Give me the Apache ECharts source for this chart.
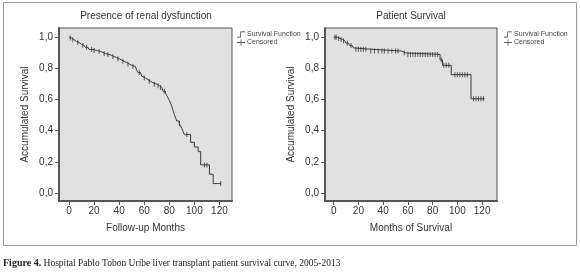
<!DOCTYPE html>
<html>
<head>
<meta charset="utf-8">
<script src="https://cdn.jsdelivr.net/npm/echarts@6/dist/echarts.min.js"></script>
<style>
  html, body { margin: 0; padding: 0; background: #fff; }
  #chart { width: 580px; height: 273px; }
</style>
</head>
<body>
<div id="chart"></div>
<script>
// Kaplan-Meier curve, renal dysfunction
var renalTime = [0,1,2,3,4,5,6,8,9,10,12,13,15,16,19,22,25,27,29,32,34,36,38,40,42,44,46,48,50,53,54,55,57,58,59,61,63,65,67,70,72,74,75,77,78,79,80,81,82,83,84,85,86,88,89,90,91,92,97,100,103,105,112,115,121];
var renalSurv = [1,.995,.99,.985,.979,.973,.967,.961,.955,.949,.943,.936,.929,.922,.916,.909,.903,.896,.89,.884,.877,.87,.862,.854,.846,.838,.829,.82,.812,.8,.787,.774,.762,.75,.739,.728,.718,.708,.699,.689,.678,.666,.653,.64,.625,.61,.594,.577,.555,.53,.505,.48,.462,.445,.43,.415,.395,.375,.325,.295,.265,.18,.12,.06,.06];
var renalCensor = [1,3,7,11,14,18,20,24,28,31,35,39,43,47,51,56,60,64,68,71,73,76,88,94,108,110,121];

// Kaplan-Meier curve, patient survival
var patientTime = [0,3,5,7,9,10,12,13,15,16,17,29,55,58,86,88,95,111,122];
var patientSurv = [1,.993,.986,.978,.97,.962,.955,.947,.94,.932,.924,.912,.9,.89,.855,.82,.76,.605,.605];
var patientCensor = [1,2,4,6,8,11,14,18,20,22,24,26,30,33,36,39,41,44,47,50,52,57,60,62,64,66,68,70,72,74,76,78,80,82,84,87,89,91,93,98,100,102,104,106,108,113,115,117,119,121];

var xTicks = [0,20,40,60,80,100,120];
var yTicks = [0,0.2,0.4,0.6,0.8,1.0];

var sans = '"Liberation Sans", Arial, sans-serif';
var serif = '"Liberation Serif", serif';

function curve(times, surv) {
    return times.map(function (t, i) { return [t, surv[i]]; });
}
// censored marks sit on the step curve
function marks(times, surv, cens) {
    return cens.map(function (c) {
        var s = surv[0];
        for (var i = 0; i < times.length; i++) {
            if (times[i] <= c) s = surv[i];
        }
        return [c, s];
    });
}

function xAxisCfg(idx, min, max, name) {
    return {
        type: 'value', gridIndex: idx, min: min, max: max,
        name: name, nameLocation: 'middle', nameGap: 22,
        nameTextStyle: { color: '#333', fontSize: 10, fontFamily: sans },
        axisLine: { show: true, onZero: false, lineStyle: { color: '#555', width: 2 } },
        axisTick: { show: true, length: 4, customValues: xTicks, lineStyle: { color: '#555' } },
        axisLabel: { customValues: xTicks, color: '#333', fontSize: 10, fontFamily: sans, margin: 5 },
        splitLine: { show: false }
    };
}
function yAxisCfg(idx) {
    return {
        type: 'value', gridIndex: idx, min: -0.052, max: 1.06,
        name: 'Accumulated Survival', nameLocation: 'middle', nameGap: 29,
        nameTextStyle: { color: '#333', fontSize: 10, fontFamily: sans },
        axisLine: { show: true, onZero: false, lineStyle: { color: '#555', width: 2 } },
        axisTick: { show: true, length: 4, customValues: yTicks, lineStyle: { color: '#555' } },
        axisLabel: {
            customValues: yTicks, color: '#333', fontSize: 10, fontFamily: sans, margin: 6,
            formatter: function (v) { return v.toFixed(1).replace('.', ','); }
        },
        splitLine: { show: false }
    };
}

var legendItems = [
    { name: 'Survival Function', icon: 'path://M0,9 L5,9 L5,1 L12,1 L12,2 L6,2 L6,10 L0,10 Z' },
    { name: 'Censored', icon: 'path://M0,4.5 L10,4.5 L10,5.5 L0,5.5 Z M4.5,1 L5.5,1 L5.5,9 L4.5,9 Z' }
];
function legendCfg(left) {
    return {
        left: left, top: 26, orient: 'vertical', data: legendItems,
        itemWidth: 8, itemHeight: 7, itemGap: 1, selectedMode: false,
        textStyle: { fontSize: 7, color: '#444', fontFamily: sans, padding: [0, 0, 0, -3] }
    };
}

function lineSeries(idx, data) {
    return {
        name: 'Survival Function', type: 'line', step: 'end', xAxisIndex: idx, yAxisIndex: idx,
        data: data, showSymbol: false, silent: true,
        lineStyle: { color: '#3a3a3a', width: 1 }, itemStyle: { color: '#333' }
    };
}
function censorSeries(idx, data) {
    return {
        name: 'Censored', type: 'scatter', xAxisIndex: idx, yAxisIndex: idx,
        data: data, symbol: 'rect', symbolSize: [1, 5], silent: true,
        itemStyle: { color: '#333' }
    };
}

var chart = echarts.init(document.getElementById('chart'));
chart.setOption({
    backgroundColor: '#fff',
    animation: false,
    grid: [
        { left: 59, top: 28, width: 173, height: 173, show: true, backgroundColor: '#e1e1e1', borderColor: '#555', borderWidth: 1 },
        { left: 325, top: 28, width: 172, height: 173, show: true, backgroundColor: '#e1e1e1', borderColor: '#555', borderWidth: 1 }
    ],
    xAxis: [xAxisCfg(0, -8, 130, 'Follow-up Months'), xAxisCfg(1, -7, 132, 'Months of Survival')],
    yAxis: [yAxisCfg(0), yAxisCfg(1)],
    legend: [legendCfg(232), legendCfg(499)],
    series: [
        lineSeries(0, curve(renalTime, renalSurv)),
        censorSeries(0, marks(renalTime, renalSurv, renalCensor)),
        lineSeries(1, curve(patientTime, patientSurv)),
        censorSeries(1, marks(patientTime, patientSurv, patientCensor))
    ],
    graphic: [
        { type: 'rect', silent: true, z: -1, shape: { x: 3.5, y: 2.5, width: 573, height: 243 },
          style: { fill: 'none', stroke: '#9a9a9a', lineWidth: 1 } },
        { type: 'text', x: 146, y: 16, style: { text: 'Presence of renal dysfunction',
          align: 'center', verticalAlign: 'middle', fill: '#333', fontSize: 10, fontFamily: sans } },
        { type: 'text', x: 411, y: 16, style: { text: 'Patient Survival', align: 'center', verticalAlign: 'middle',
          fill: '#333', fontSize: 10, fontFamily: sans } },
        { type: 'text', x: 3, y: 263, style: {
            text: '{b|Figure 4.}{n| Hospital Pablo Tobon Uribe liver transplant patient survival curve, 2005-2013}',
            verticalAlign: 'middle', fill: '#222', fontSize: 10, fontFamily: serif,
            rich: {
                b: { fontWeight: 'bold', fontSize: 10, fontFamily: serif, fill: '#222' },
                n: { fontSize: 9.5, fontFamily: serif, fill: '#222' }
            }
        } }
    ]
});
</script>
</body>
</html>
